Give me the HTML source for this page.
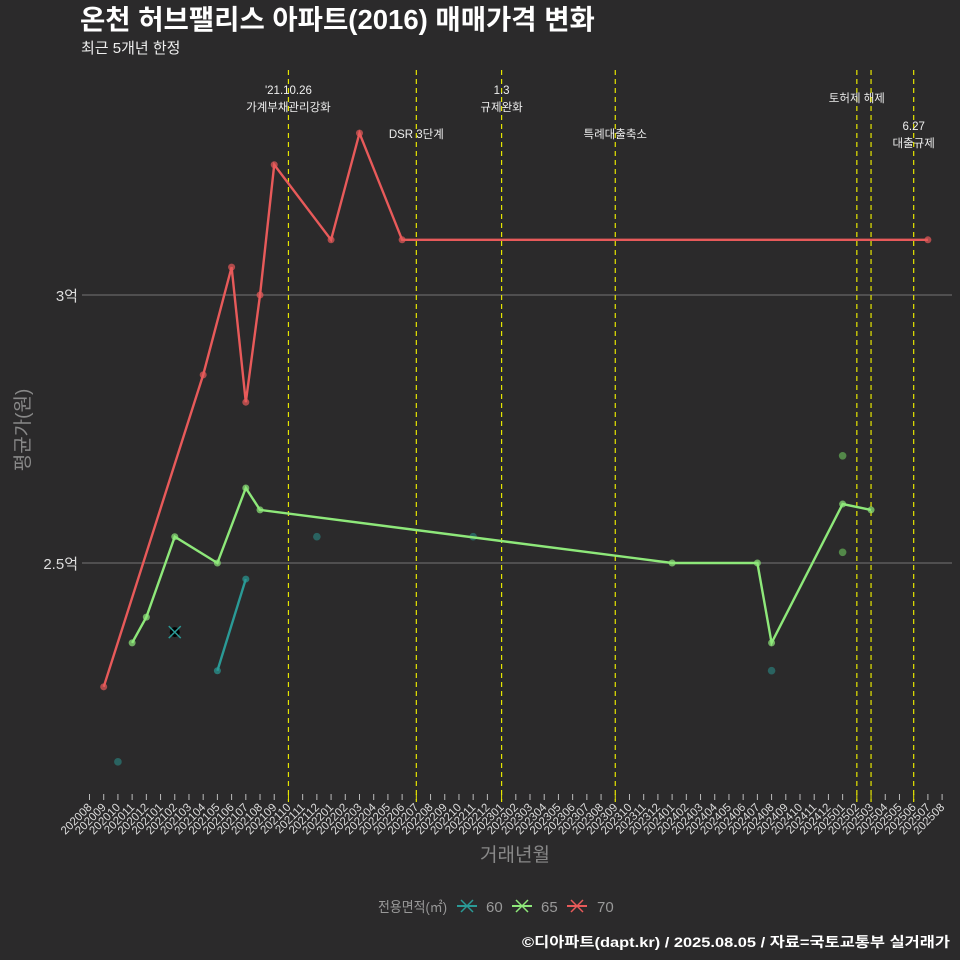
<!DOCTYPE html>
<html><head><meta charset="utf-8"><style>
body{margin:0;background:#2b2a2b;}
svg{display:block;font-family:"Liberation Sans","Noto Sans CJK KR",sans-serif;}
</style></head><body>
<svg id="chart" width="960" height="960" viewBox="0 0 960 960" xmlns="http://www.w3.org/2000/svg">
<rect width="960" height="960" fill="#2b2a2b"/>
<text x="80" y="29" font-size="27.5" font-weight="bold" fill="#fff">온천 허브팰리스 아파트(2016) 매매가격 변화</text>
<text x="81" y="53" font-size="15" fill="#eee">최근 5개년 한정</text>
<g id="grid"></g><g id="events"></g><g id="series"></g><g id="xaxis"></g>
<text x="29" y="430" font-size="19" fill="#888" transform="rotate(-90 29 430)" text-anchor="middle">평균가(원)</text>
<text x="515" y="861" font-size="19" fill="#888" text-anchor="middle">거래년월</text>
<g>
<text x="378" y="912" font-size="14" fill="#999" textLength="69" lengthAdjust="spacingAndGlyphs">전용면적(㎡)</text>
<g><line x1="457" y1="906" x2="477" y2="906" stroke="#2a9a96" stroke-width="2"/><path d="M461 900 L473 912 M473 900 L461 912" stroke="#2a9a96" stroke-width="1.5"/><text x="486" y="912" font-size="15" fill="#999">60</text></g>
<g><line x1="512" y1="906" x2="532" y2="906" stroke="#8ee87a" stroke-width="2"/><path d="M516 900 L528 912 M528 900 L516 912" stroke="#8ee87a" stroke-width="1.5"/><text x="541" y="912" font-size="15" fill="#999">65</text></g>
<g><line x1="567" y1="906" x2="587" y2="906" stroke="#e85a5a" stroke-width="2"/><path d="M571 900 L583 912 M583 900 L571 912" stroke="#e85a5a" stroke-width="1.5"/><text x="597" y="912" font-size="15" fill="#999">70</text></g>
</g>
<text x="522" y="947" font-size="14" font-weight="bold" fill="#fff" textLength="428" lengthAdjust="spacingAndGlyphs">©디아파트(dapt.kr) / 2025.08.05 / 자료=국토교통부 실거래가</text>
</svg>
<script>
const months = [];
for (let y = 2020; y <= 2025; y++) for (let m = 1; m <= 12; m++) { const k = y * 100 + m; if (k >= 202008 && k <= 202508) months.push(String(k)); }
const yTicks = [2.5, 3];
const yTickLabels = ["2.5억", "3억"];
const line70Months = ["202009","202104","202106","202107","202108","202109","202201","202203","202206","202507"];
const line70Values = [2.269,2.851,3.052,2.80,3.0,3.243,3.103,3.302,3.103,3.103];
const line65Months = ["202011","202012","202102","202105","202107","202108","202401","202407","202408","202501","202503"];
const line65Values = [2.351,2.399,2.549,2.5,2.64,2.599,2.5,2.5,2.351,2.61,2.599];
const line60Months = ["202105","202107"];
const line60Values = [2.299,2.47];
const pts60Months = ["202010","202112","202211","202408"];
const pts60Values = [2.129,2.549,2.549,2.299];
const pts65Months = ["202501","202501"];
const pts65Values = [2.70,2.52];
const cross60Months = ["202102"];
const cross60Values = [2.371];
const eventMonths = ["202110","202207","202301","202309","202502","202503","202506"];
const eventLabels = [["'21.10.26","가계부채관리강화"],["DSR 3단계"],["1.3","규제완화"],["특례대출축소"],["토허제 해제"],[],["6.27","대출규제"]];
const eventLabelY = [94,138,94,138,102,0,130];

const NS = "http://www.w3.org/2000/svg";
const X = m => 89.5 + months.indexOf(m) * 14.21;
const Y = v => 563 - (v - 2.5) * 536;
function mk(tag, attrs, parent) { const e = document.createElementNS(NS, tag); for (const k in attrs) e.setAttribute(k, attrs[k]); parent.appendChild(e); return e; }
const grid = document.getElementById('grid');
yTicks.forEach((v, i) => {
  const l = mk('line', {x1: 82, x2: 952, y1: Y(v), y2: Y(v), stroke: '#666', 'stroke-width': 1.2}, grid);
  
  
  const t = mk('text', {x: 78, y: Y(v) + 6, 'text-anchor': 'end', 'font-size': 15, fill: '#ddd'}, grid);
  t.textContent = yTickLabels[i];
  
  
});
const ev = document.getElementById('events');
eventMonths.forEach((m, i) => {
  const l = mk('line', {x1: X(m), x2: X(m), y1: 70, y2: 802, stroke: '#e6e600', 'stroke-width': 1.2, 'stroke-dasharray': '5,4'}, ev);
  
  
  eventLabels[i].forEach((s, j) => {
    const t = mk('text', {x: X(m), y: eventLabelY[i] + j * 17, 'text-anchor': 'middle', 'font-size': 11.5, fill: '#eee'}, ev);
    t.textContent = s;
    
    
  });
});
const se = document.getElementById('series');
function drawLine(ms, vs, color, name) {
  const p = mk('polyline', {points: ms.map((m, i) => X(m) + ',' + Y(vs[i])).join(' '), fill: 'none', stroke: color, 'stroke-width': 2.4}, se);
  
  
  ms.forEach((m, i) => {
    const c = mk('circle', {cx: X(m), cy: Y(vs[i]), r: 3.5, fill: color, opacity: 0.7}, se);
    
    
  });
}
function drawPts(ms, vs, color, name) {
  ms.forEach((m, i) => {
    const c = mk('circle', {cx: X(m), cy: Y(vs[i]), r: 3.8, fill: color, opacity: 0.6}, se);
    
    
  });
}
drawPts(pts60Months, pts60Values, '#2a8a86', 'trade-point-60');
drawPts(pts65Months, pts65Values, '#6ec85e', 'trade-point-65');
drawLine(line60Months, line60Values, '#2a9a96', 'line-60');
drawLine(line70Months, line70Values, '#e85a5a', 'line-70');
drawLine(line65Months, line65Values, '#8ee87a', 'line-65');
cross60Months.forEach((m, i) => {
  const x = X(m), y = Y(cross60Values[i]);
  const c = mk('circle', {cx: x, cy: y, r: 5, fill: '#000'}, se);
  
  
  mk('path', {d: `M${x-6} ${y-6} L${x+6} ${y+6} M${x+6} ${y-6} L${x-6} ${y+6}`, stroke: '#2a9a96', 'stroke-width': 1.5}, se);
});
const xa = document.getElementById('xaxis');
months.forEach(m => {
  const x = X(m);
  const isEv = eventMonths.includes(m);
  const tk = mk('line', {x1: x, x2: x, y1: 794, y2: 800, stroke: isEv ? '#e6e600' : '#bbb', 'stroke-width': 1}, xa);
  
  
  const t = mk('text', {x: x + 3, y: 808, 'text-anchor': 'end', 'font-size': 11.5, fill: '#ddd', transform: `rotate(-45 ${x + 3} 808)`}, xa);
  t.textContent = m;
  
  
});
</script>
</body></html>
